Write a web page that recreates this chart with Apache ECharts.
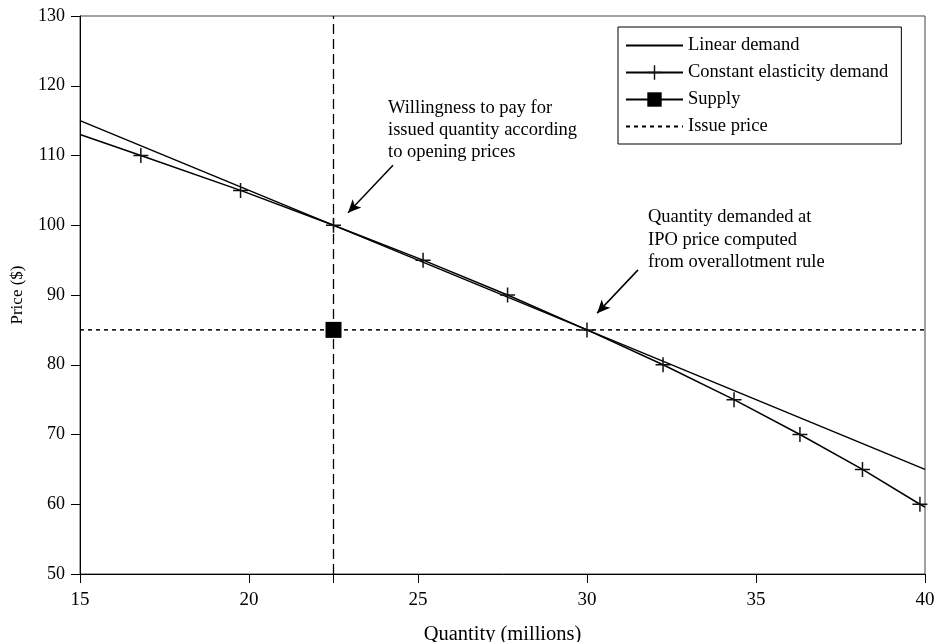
<!DOCTYPE html>
<html>
<head>
<meta charset="utf-8">
<script src="https://cdn.jsdelivr.net/npm/echarts@6/dist/echarts.min.js"></script>
<style>html,body{margin:0;padding:0;background:#fff}#c{width:934px;height:642px}</style>
</head>
<body>
<div id="c"></div>
<script>
// Data
var linearDemand = [[15, 115], [40, 65]];
var constElastQ = [15, 16.8, 19.75, 22.5, 25.15, 27.65, 30, 32.25, 34.35, 36.3, 38.15, 39.85, 40];
var constElastP = [113, 110, 105, 100, 95, 90, 85, 80, 75, 70, 65, 60, 59.6];
var constElastMarked = [false, true, true, true, true, true, true, true, true, true, true, true, false];
var supply = [[22.5, 85]];
var issuePrice = 85;
var issuedQuantity = 22.5;
var xTicks = [15, 20, 25, 30, 35, 40];
var xTickMarks = [15, 20, 22.5, 25, 30, 35, 40];
var annotations = [
  {text: 'Willingness to pay for\nissued quantity according\nto opening prices', from: [24.26, 108.6], to: [22.93, 101.8]},
  {text: 'Quantity demanded at\nIPO price computed\nfrom overallotment rule', from: [31.51, 93.6], to: [30.3, 87.4]}
];

var FONT = 'Liberation Serif';
var chart = echarts.init(document.getElementById('c'), null, {renderer: 'canvas'});
var plus = 'path://M0,9H20V11H0Z M9,0H11V20H9Z';

var ceData = constElastQ.map(function (q, i) {
  var d = {value: [q, constElastP[i]]};
  if (!constElastMarked[i]) d.symbol = 'none';
  return d;
});

var option = {
  animation: false,
  backgroundColor: '#fff',
  textStyle: {fontFamily: FONT, color: '#000'},
  grid: {left: 80, right: 9, top: 16, bottom: 68, show: true, borderColor: '#444', borderWidth: 1,
         containLabel: false, outerBoundsMode: 'none'},
  legend: {
    data: [
      {name: 'Linear demand', itemStyle: {opacity: 0}},
      {name: 'Constant elasticity demand'},
      {name: 'Supply'},
      {name: 'Issue price', itemStyle: {opacity: 0}}
    ],
    orient: 'vertical',
    left: 618, top: 27,
    padding: [9, 13, 8, 7],
    itemWidth: 57, itemHeight: 18, itemGap: 8,
    backgroundColor: '#fff',
    borderColor: '#000', borderWidth: 1,
    textStyle: {fontFamily: FONT, fontSize: 18.5, color: '#000'},
    selectedMode: false
  },
  xAxis: {
    type: 'value', min: 15, max: 40, interval: 5,
    name: 'Quantity (millions)', nameLocation: 'middle', nameGap: 50,
    nameTextStyle: {fontFamily: FONT, fontSize: 20.5, color: '#000'},
    axisLine: {show: true, lineStyle: {color: '#000', width: 1}},
    axisTick: {show: true, inside: false, length: 9, lineStyle: {color: '#000'}, customValues: xTickMarks},
    axisLabel: {fontFamily: FONT, fontSize: 19, color: '#000', margin: 17, customValues: xTicks},
    splitLine: {show: false}
  },
  yAxis: {
    type: 'value', min: 50, max: 130, interval: 10,
    name: 'Price ($)', nameLocation: 'middle', nameGap: 54, nameRotate: 90,
    nameTextStyle: {fontFamily: FONT, fontSize: 17, color: '#000'},
    axisLine: {show: true, lineStyle: {color: '#000', width: 1}},
    axisTick: {show: true, inside: false, length: 9, lineStyle: {color: '#000'}},
    axisLabel: {fontFamily: FONT, fontSize: 18, color: '#000', margin: 15},
    splitLine: {show: false}
  },
  series: [
    {
      name: 'Linear demand', type: 'line', data: linearDemand,
      symbol: 'none', lineStyle: {color: '#000', width: 1.5}, itemStyle: {color: '#000'}
    },
    {
      name: 'Constant elasticity demand', type: 'line', data: ceData,
      symbol: plus, symbolSize: 15, showAllSymbol: true,
      lineStyle: {color: '#000', width: 1.5}, itemStyle: {color: '#111'}
    },
    {
      name: 'Supply', type: 'line', data: supply,
      symbol: 'rect', symbolSize: 16, z: 5,
      lineStyle: {color: '#000', width: 1.5}, itemStyle: {color: '#000'}
    },
    {
      name: 'Issue price', type: 'line', data: [[15, issuePrice], [40, issuePrice]],
      symbol: 'none', lineStyle: {color: '#000', width: 1.5, type: [4, 4]}, itemStyle: {color: '#000'}
    },
    {
      name: 'Issued quantity', type: 'line', data: [[issuedQuantity, 50], [issuedQuantity, 130]],
      symbol: 'none', lineStyle: {color: '#000', width: 1.3, type: [10, 5]}, itemStyle: {color: '#000'}
    },
    {
      name: 'Annotations', type: 'line', data: [],
      markLine: {
        silent: true, animation: false,
        symbol: ['none', 'arrow'], symbolSize: [9, 13],
        lineStyle: {color: '#000', width: 1.5, type: 'solid'},
        label: {show: false},
        data: annotations.map(function (a) { return [{coord: a.from}, {coord: a.to}]; })
      }
    }
  ],
  graphic: [
    {type: 'text', left: 388, top: 97, style: {text: annotations[0].text, font: '18.5px "Liberation Serif"', fill: '#000', lineHeight: 22}},
    {type: 'text', left: 648, top: 206, style: {text: annotations[1].text, font: '18.5px "Liberation Serif"', fill: '#000', lineHeight: 22.5}}
  ]
};
chart.setOption(option);
</script>
</body>
</html>
